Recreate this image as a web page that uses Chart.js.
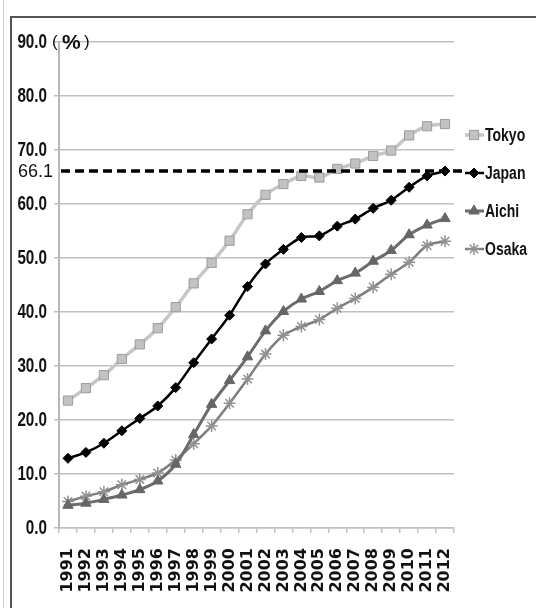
<!DOCTYPE html>
<html>
<head>
<meta charset="utf-8">
<script src="https://cdn.jsdelivr.net/npm/chart.js@4.4.1/dist/chart.umd.min.js"></script>
<style>
  body { margin: 0; background: #fff; }
  #wrap { position: relative; width: 536px; height: 608px; overflow: hidden; }
  #outer { position: absolute; left: 3px; top: 0; width: 1px; height: 608px; background: #d0d0d0; }
  #frame { position: absolute; left: 10px; top: 16px; right: -4px; bottom: -4px;
           border-left: 2px solid #555; border-top: 2px solid #555; }
  canvas { position: absolute; left: 0; top: 0; }
</style>
</head>
<body>
<div id="wrap">
  <div id="outer"></div>
  <div id="frame"></div>
  <canvas id="myChart" width="536" height="608"></canvas>
</div>
<script>
// data
const years = ['1991','1992','1993','1994','1995','1996','1997','1998','1999','2000','2001',
               '2002','2003','2004','2005','2006','2007','2008','2009','2010','2011','2012'];
const tokyo = [23.6, 25.9, 28.3, 31.3, 34.0, 37.0, 40.9, 45.3, 49.1, 53.2, 58.1,
               61.7, 63.7, 65.2, 64.9, 66.5, 67.5, 68.9, 69.9, 72.7, 74.4, 74.8];
const japan = [12.9, 14.0, 15.7, 18.0, 20.3, 22.6, 26.0, 30.6, 35.0, 39.4, 44.7,
               48.9, 51.6, 53.8, 54.1, 55.9, 57.2, 59.2, 60.7, 63.1, 65.2, 66.1];
const aichi = [4.2, 4.6, 5.3, 6.1, 7.1, 8.7, 11.8, 17.3, 22.9, 27.3, 31.7,
               36.5, 40.1, 42.4, 43.8, 45.8, 47.2, 49.4, 51.4, 54.3, 56.1, 57.3];
const osaka = [4.9, 5.9, 6.7, 8.0, 9.0, 10.2, 12.6, 15.6, 18.9, 23.1, 27.6,
               32.2, 35.7, 37.3, 38.6, 40.7, 42.5, 44.6, 47.0, 49.2, 52.3, 53.1];
const yTicks = [0, 10, 20, 30, 40, 50, 60, 70, 80, 90];
const referenceLine = 66.1;
const unitLabel = '%';

// no narrow font installed, so squeeze a bold one by hand
function narrowText(ctx, text, x, y, size, squeeze, align) {
  ctx.save();
  ctx.translate(x, y);
  ctx.scale(squeeze, 1);
  ctx.font = 'bold ' + size + 'px "Liberation Sans", Arial, sans-serif';
  ctx.textAlign = align;
  ctx.textBaseline = 'middle';
  ctx.fillText(text, 0, 0);
  ctx.restore();
}

// y labels, dashed reference line, "66.1", "(%)" and the legend on the right
const extras = {
  id: 'extras',
  afterDatasetsDraw(chart) {
    const ctx = chart.ctx;
    const y = chart.scales.y;
    const area = chart.chartArea;
    const ry = y.getPixelForValue(referenceLine);

    ctx.save();
    ctx.fillStyle = '#111';
    y.ticks.forEach(t => {
      narrowText(ctx, t.value.toFixed(1), area.left - 12, y.getPixelForValue(t.value) + 1, 19.5, 0.78, 'right');
    });

    ctx.strokeStyle = '#000';
    ctx.lineWidth = 3.5;
    ctx.setLineDash([9, 5]);
    ctx.beginPath();
    ctx.moveTo(area.left + 2, ry);
    ctx.lineTo(area.right + 12, ry);
    ctx.stroke();
    ctx.setLineDash([]);

    ctx.font = '18px "Liberation Sans", Arial, sans-serif';
    ctx.textAlign = 'left';
    ctx.textBaseline = 'middle';
    ctx.fillText(referenceLine.toFixed(1), 18, ry + 1);

    // unit next to the top tick
    const ty = y.getPixelForValue(yTicks[yTicks.length - 1]);
    ctx.font = '17px "Liberation Sans", sans-serif';
    ctx.fillText('(', 52, ty);
    ctx.font = 'bold 21px "Liberation Sans", sans-serif';
    ctx.fillText(unitLabel, 62, ty + 1);
    ctx.font = '17px "Liberation Sans", sans-serif';
    ctx.fillText(')', 84, ty);

    // legend
    const lx = area.right + 11;
    chart.data.datasets.forEach((ds, i) => {
      const ly = area.top + 93 + i * 38;
      ctx.strokeStyle = ds.borderColor;
      ctx.lineWidth = ds.borderWidth;
      ctx.beginPath();
      ctx.moveTo(lx, ly);
      ctx.lineTo(lx + 19, ly);
      ctx.stroke();
      ctx.fillStyle = ds.pointBackgroundColor;
      ctx.strokeStyle = ds.pointBorderColor;
      ctx.lineWidth = ds.pointBorderWidth;
      Chart.helpers.drawPoint(ctx, { pointStyle: ds.pointStyle, radius: ds.pointRadius, borderWidth: ds.pointBorderWidth },
                              lx + 9, ly);
      ctx.fillStyle = '#111';
      narrowText(ctx, ds.label, lx + 20, ly + 1, 17.5, 0.8, 'left');
    });
    ctx.restore();
  }
};

const ctx = document.getElementById('myChart').getContext('2d');
const chart = new Chart(ctx, {
  type: 'line',
  data: {
    labels: years,
    datasets: [
      { label: 'Tokyo', data: tokyo, borderColor: '#c6c6c6', borderWidth: 3.5,
        pointStyle: 'rect', pointRadius: 6.5, pointBackgroundColor: '#c2c2c2',
        pointBorderColor: '#9c9c9c', pointBorderWidth: 1 },
      { label: 'Japan', data: japan, borderColor: '#000', borderWidth: 2.5,
        pointStyle: 'rectRot', pointRadius: 5, pointBackgroundColor: '#000',
        pointBorderColor: '#000', pointBorderWidth: 1 },
      { label: 'Aichi', data: aichi, borderColor: '#6c6c6c', borderWidth: 3,
        pointStyle: 'triangle', pointRadius: 6, pointBackgroundColor: '#666',
        pointBorderColor: '#666', pointBorderWidth: 1 },
      { label: 'Osaka', data: osaka, borderColor: '#7e7e7e', borderWidth: 2.5,
        pointStyle: 'star', pointRadius: 6, pointBackgroundColor: '#8a8a8a',
        pointBorderColor: '#929292', pointBorderWidth: 1.5 }
    ]
  },
  options: {
    responsive: false,
    animation: false,
    layout: { padding: { top: 42, right: 82, left: 0, bottom: 0 } },
    elements: { line: { tension: 0.3 } },
    plugins: { legend: { display: false }, tooltip: { enabled: false } },
    scales: {
      x: {
        offset: true,
        grid: { offset: true, drawOnChartArea: false, drawTicks: true, tickLength: 5,
                color: '#c0c0c0', lineWidth: 1.5 },
        border: { color: '#c0c0c0', width: 1.5 },
        ticks: { autoSkip: false, minRotation: 90, maxRotation: 90, padding: 15,
                 color: '#111', font: { family: '"DejaVu Sans"', weight: 'bold', size: 16 } },
        afterFit(scale) { scale.height = 80; }
      },
      y: {
        min: 0, max: 90,
        afterBuildTicks(scale) { scale.ticks = yTicks.map(v => ({ value: v })); },
        grid: { color: '#c0c0c0', lineWidth: 1.5, tickLength: 5 },
        border: { color: '#b8b8b8', width: 2 },
        ticks: { color: 'rgba(0,0,0,0)', callback: v => v.toFixed(1) },
        afterFit(scale) { scale.width = 59; }
      }
    }
  },
  plugins: [extras]
});
</script>
</body>
</html>
